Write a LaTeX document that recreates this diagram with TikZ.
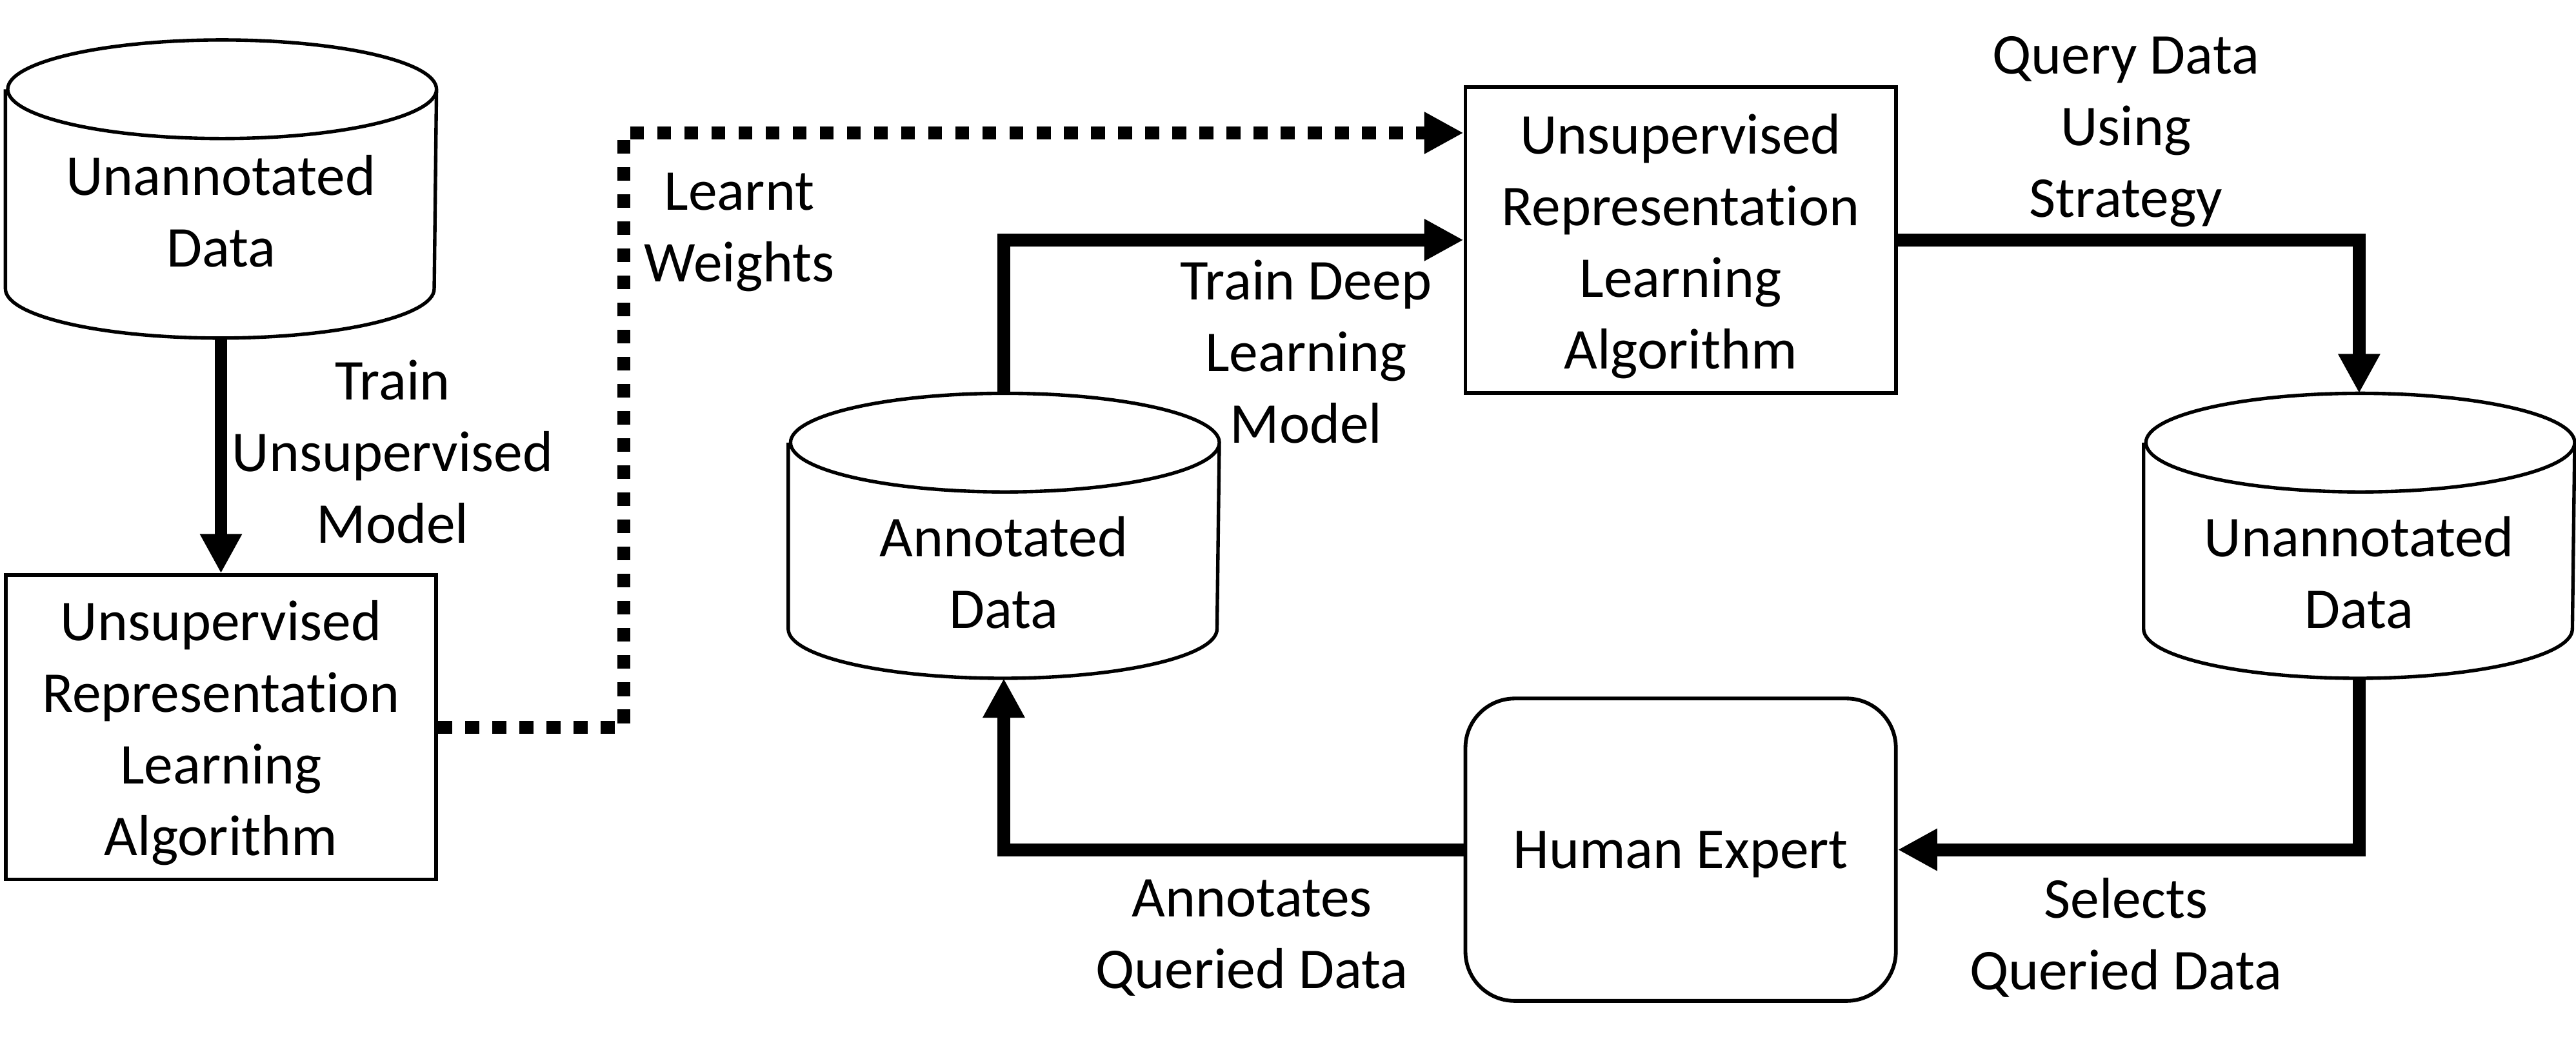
\documentclass[tikz,border=0pt]{standalone}
\usepackage{fontspec}
\setmainfont{Carlito}[Ligatures=NoCommon]
\usetikzlibrary{arrows.meta,calc}
\newcommand\drawcyl[1]{%
  \draw[cylline] ($(#1.north west)+(0,-30)$) -- ($(#1.south west)+(0,30)$)
    arc[start angle=180,end angle=360,x radius=13.05mm,y radius=3mm]
    -- ($(#1.north east)+(0,-30)$)
    arc[start angle=0,end angle=180,x radius=13.05mm,y radius=3mm]
    arc[start angle=180,end angle=360,x radius=13.05mm,y radius=3mm];}
\begin{document}
\begin{tikzpicture}[x=0.1mm,y=0.1mm,
  every node/.style={font=\fontsize{10pt}{12.4pt}\selectfont},
  box/.style={draw, line width=0.65pt, minimum width=26.2mm, inner sep=0pt},
  cylb/.style={minimum width=26.1mm, inner sep=0pt},
  cylline/.style={line width=0.6pt},
  lbl/.style={align=center, inner sep=0pt},
  conn/.style={line width=0.78mm, -{Triangle[length=2.4mm,width=2.4mm]}},
  dotconn/.style={line width=0.78mm, dash pattern=on 0.85mm off 0.8mm, -{Triangle[length=2.4mm,width=2.4mm]}}]
\useasboundingbox (0,0) rectangle (1568,633);

% nodes
\node[cylb, minimum height=18mm] (cylA) at (134.5,518) {};
\drawcyl{cylA}
\node[lbl] (cylAtext) at (134.5,504.5) {Unannotated\\Data};

\node[box, minimum height=18.5mm] (boxB) at (134.5,190.5) {};
\node[lbl] (boxBtext) at (134.5,187) {Unsupervised\\Representation\\Learning\\Algorithm};

\node[box, minimum height=18.6mm] (boxC) at (1023,487) {};
\node[lbl] (boxCtext) at (1023,483) {Unsupervised\\Representation\\Learning\\Algorithm};

\node[cylb, minimum height=17.2mm] (cylD) at (611,307) {};
\drawcyl{cylD}
\node[lbl] (cylDtext) at (611,284.5) {Annotated\\Data};

\node[cylb, minimum height=17.2mm] (cylE) at (1436,307) {};
\drawcyl{cylE}
\node[lbl] (cylEtext) at (1436,284.5) {Unannotated\\Data};

\node[box, minimum height=18.4mm, rounded corners=3mm] (human) at (1023,116) {};
\node[lbl] (humantext) at (1023,113) {Human Expert};

% connectors
\coordinate (cin) at ($(boxC.north west)+(0,-29)$);
\draw[conn] (cylA.south) -- (boxB.north);
\draw[dotconn] (boxB.east) -- ++(113,0) |- (cin);
\draw[conn] (cylD.north) |- (boxC.west);
\draw[conn] (boxC.east) -| (cylE.north);
\draw[conn] (cylE.south) |- (human.east);
\draw[conn] (human.west) -| (cylD.south);

% labels
\node[lbl] (l1) at (239,358) {Train\\Unsupervised\\Model};
\node[lbl] (l2) at (450,491.5) {Learnt\\Weights};
\node[lbl] (l3) at (795,419) {Train Deep\\Learning\\Model};
\node[lbl] (l4) at (1294,553) {Query Data\\Using\\Strategy};
\node[lbl] (l5) at (1294,62.5) {Selects\\Queried Data};
\node[lbl] (l6) at (762,62.5) {Annotates\\Queried Data};
\end{tikzpicture}
\end{document}
